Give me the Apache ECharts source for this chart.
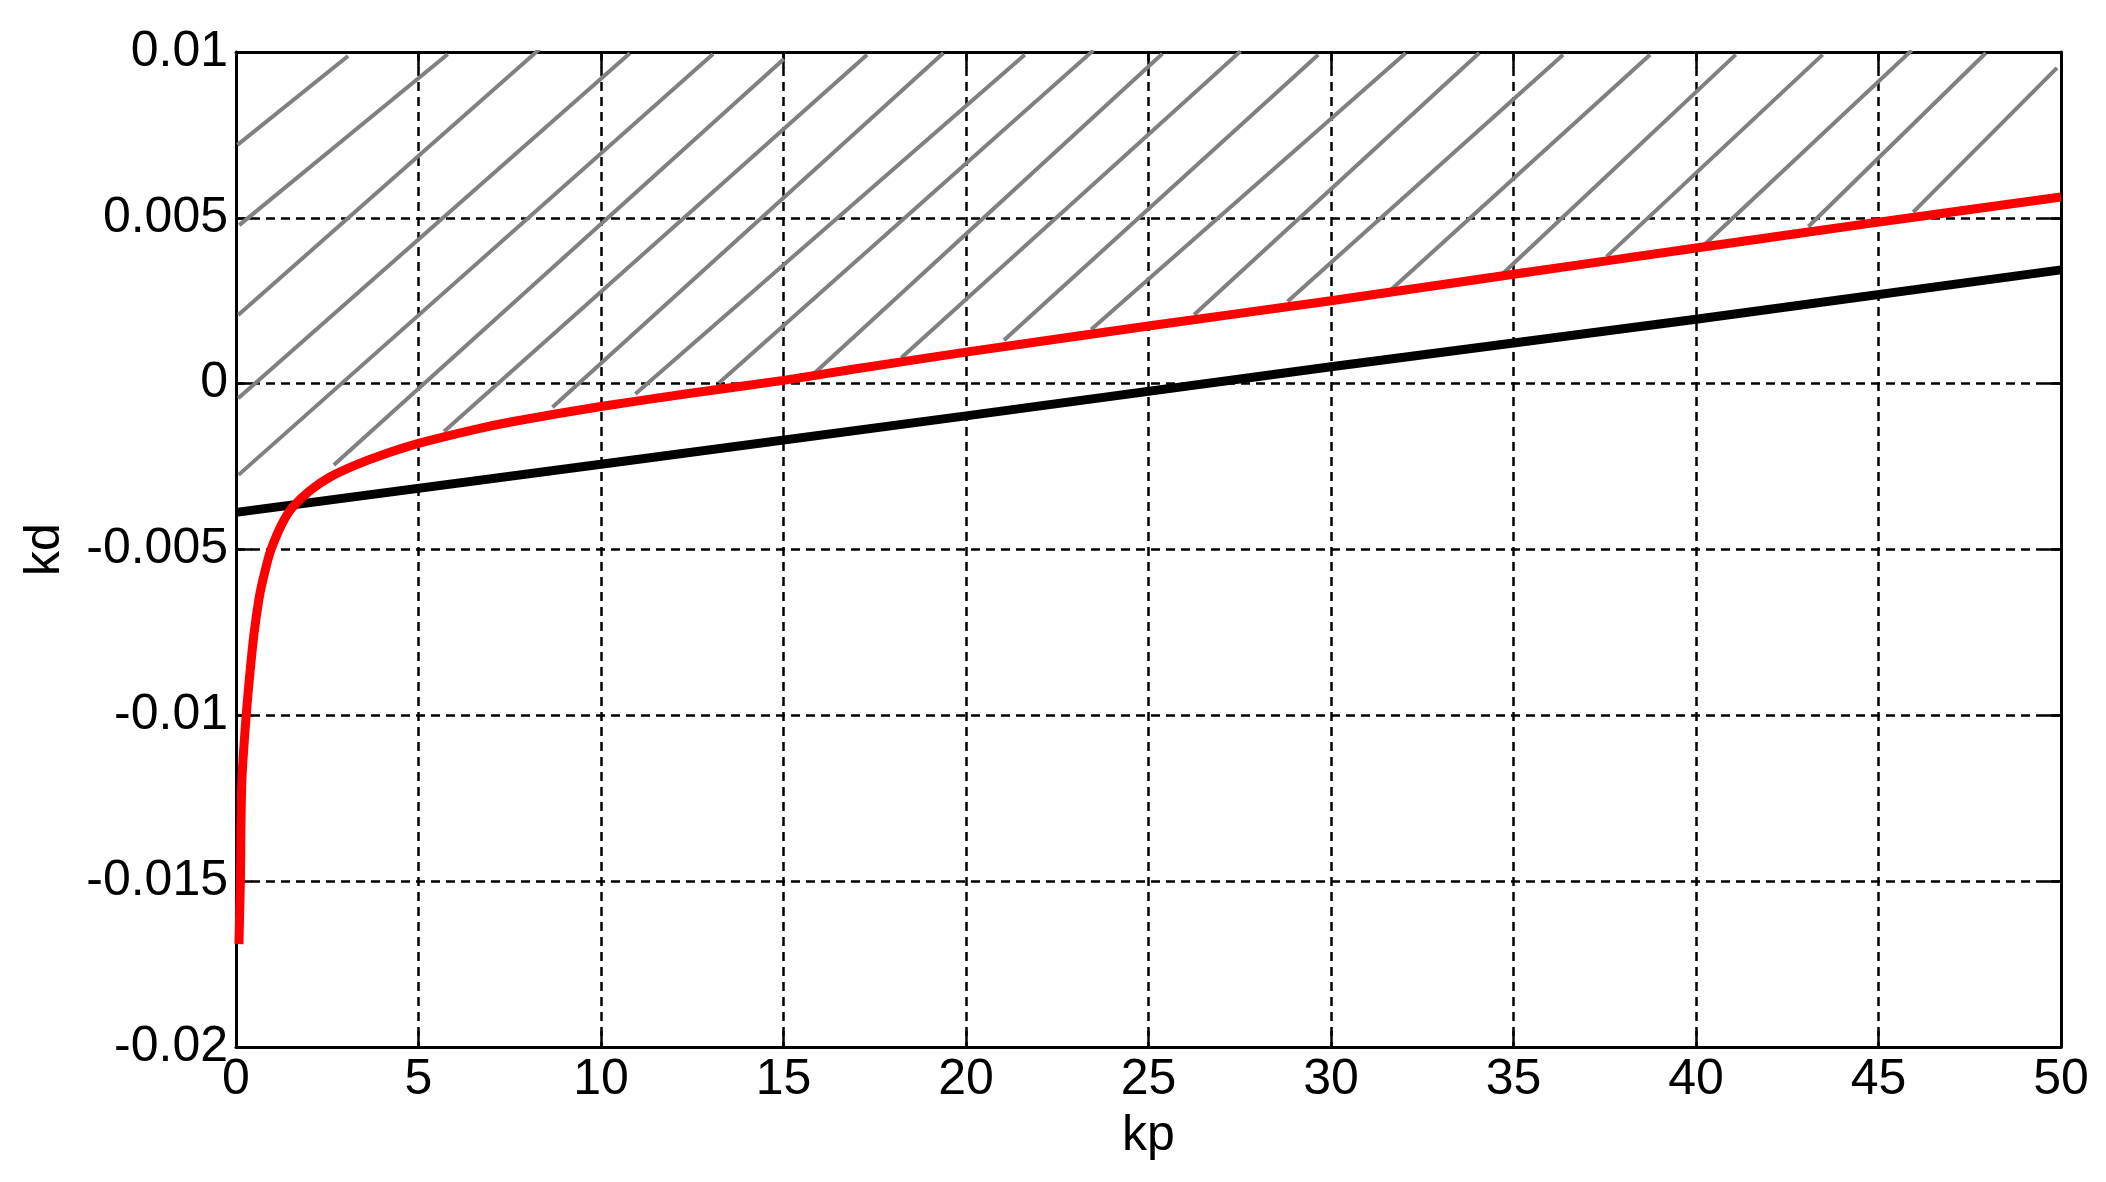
<!DOCTYPE html>
<html>
<head>
<meta charset="utf-8">
<script src="https://cdn.jsdelivr.net/npm/echarts@6/dist/echarts.min.js"></script>
<style>
  html, body { margin: 0; padding: 0; background: #fff; }
  #chart { width: 2106px; height: 1182px; }
</style>
</head>
<body>
<div id="chart"></div>
<script>
// kp values and kd values
var redKp = [0.08, 0.12, 0.16, 0.28, 0.41, 0.51, 0.66, 0.83, 0.96, 1.25, 1.54, 2.03, 2.6, 3.24, 4, 5, 6.5, 7.6, 10, 12.5, 15, 17, 20, 25, 30, 35, 40, 45, 50];
var redKd = [-0.0169, -0.0150, -0.0120, -0.0100, -0.0084, -0.0074, -0.0063, -0.0055, -0.0050, -0.00425, -0.00374, -0.00322, -0.0028, -0.00247, -0.00215, -0.0018, -0.00139, -0.00114, -0.00069, -0.00028, 0.0001, 0.00045, 0.00095, 0.00174, 0.0025, 0.0033, 0.00409, 0.00487, 0.00563];

var blackKp = [0, 10, 20, 30, 40, 50];
var blackKd = [-0.00388, -0.00243, -0.00097, 0.00051, 0.00194, 0.00343];

// hatch segments (start / end), in data units
var hatchX1 = [0.04, 0.09, 0.06, 0.06, 0.07, 2.68, 5.70, 8.67, 10.94, 13.23, 15.8, 18.23, 21.04, 23.43, 26.25, 28.81, 31.59, 34.71, 37.55, 40.25, 43.08, 45.95];
var hatchY1 = [0.0072, 0.00478, 0.00207, -0.00044, -0.00275, -0.00245, -0.00144, -0.00071, -0.00031, 0.00002, 0.00027, 0.00078, 0.00131, 0.00163, 0.00208, 0.00248, 0.00278, 0.00332, 0.00383, 0.00421, 0.00474, 0.00517];
var hatchX2 = [3.07, 5.8, 8.31, 10.79, 13.07, 15.01, 17.29, 19.38, 21.61, 23.49, 25.38, 27.52, 29.65, 32.05, 34.06, 36.36, 38.74, 41.09, 43.47, 45.91, 47.94, 49.89];
var hatchY2 = [0.00988, 0.00993, 0.01008, 0.00996, 0.00994, 0.00979, 0.00992, 0.00997, 0.00992, 0.01005, 0.00995, 0.01002, 0.00992, 0.00997, 0.00997, 0.00992, 0.00992, 0.00992, 0.00992, 0.01005, 0.00997, 0.00952];

var xTickLabels = ['0', '5', '10', '15', '20', '25', '30', '35', '40', '45', '50'];
var yTickLabels = ['-0.02', '-0.015', '-0.01', '-0.005', '0', '0.005', '0.01'];

var FONT = 'Liberation Sans, Arial, sans-serif';

function pairs(xs, ys) {
  return xs.map(function (x, i) { return [x, ys[i]]; });
}

var hatchData = hatchX1.map(function (x, i) {
  return { coords: [[x, hatchY1[i]], [hatchX2[i], hatchY2[i]]] };
});

var chart = echarts.init(document.getElementById('chart'), null, { renderer: 'canvas' });

var gridDash = { color: '#000', width: 2.5, type: [9, 6] };
var frameLine = { show: true, onZero: false, lineStyle: { color: '#000', width: 3 } };
var innerTick = { show: true, inside: true, length: 16, lineStyle: { color: '#000', width: 2.5 } };

chart.setOption({
  animation: false,
  backgroundColor: '#fff',
  grid: { left: 236, top: 52, right: 45, bottom: 135, containLabel: false },
  xAxis: [{
    type: 'value', position: 'bottom',
    min: 0, max: 50, interval: 5,
    name: 'kp', nameLocation: 'middle', nameGap: 64,
    nameTextStyle: { color: '#000', fontSize: 50, fontFamily: FONT },
    axisLine: frameLine, axisTick: innerTick,
    axisLabel: {
      color: '#000', fontSize: 50, fontFamily: FONT, margin: 8,
      formatter: function (v) { return xTickLabels[Math.round(v / 5)]; }
    },
    splitLine: { show: true, lineStyle: gridDash }
  }, {
    type: 'value', position: 'top',
    min: 0, max: 50, interval: 5,
    axisLine: frameLine, axisTick: innerTick,
    axisLabel: { show: false }, splitLine: { show: false }
  }],
  yAxis: [{
    type: 'value', position: 'left',
    min: -0.02, max: 0.01, interval: 0.005,
    name: 'kd', nameLocation: 'middle', nameGap: 166,
    nameTextStyle: { color: '#000', fontSize: 50, fontFamily: FONT },
    axisLine: frameLine, axisTick: innerTick,
    axisLabel: {
      color: '#000', fontSize: 50, fontFamily: FONT, margin: 8,
      formatter: function (v) { return yTickLabels[Math.round((v + 0.02) / 0.005)]; }
    },
    splitLine: { show: true, lineStyle: gridDash }
  }, {
    type: 'value', position: 'right',
    min: -0.02, max: 0.01, interval: 0.005,
    axisLine: frameLine, axisTick: innerTick,
    axisLabel: { show: false }, splitLine: { show: false }
  }],
  series: [{
    name: 'hatch',
    type: 'lines',
    coordinateSystem: 'cartesian2d',
    xAxisIndex: 0, yAxisIndex: 0,
    data: hatchData,
    silent: true,
    lineStyle: { color: '#808080', width: 4, opacity: 1, cap: 'butt' },
    z: 2
  }, {
    name: 'black',
    type: 'line',
    data: pairs(blackKp, blackKd),
    showSymbol: false,
    lineStyle: { color: '#000', width: 9 },
    z: 3
  }, {
    name: 'red',
    type: 'line',
    data: pairs(redKp, redKd),
    showSymbol: false,
    smooth: 0.3,
    lineStyle: { color: '#ff0000', width: 9 },
    z: 4
  }]
});
</script>
</body>
</html>
